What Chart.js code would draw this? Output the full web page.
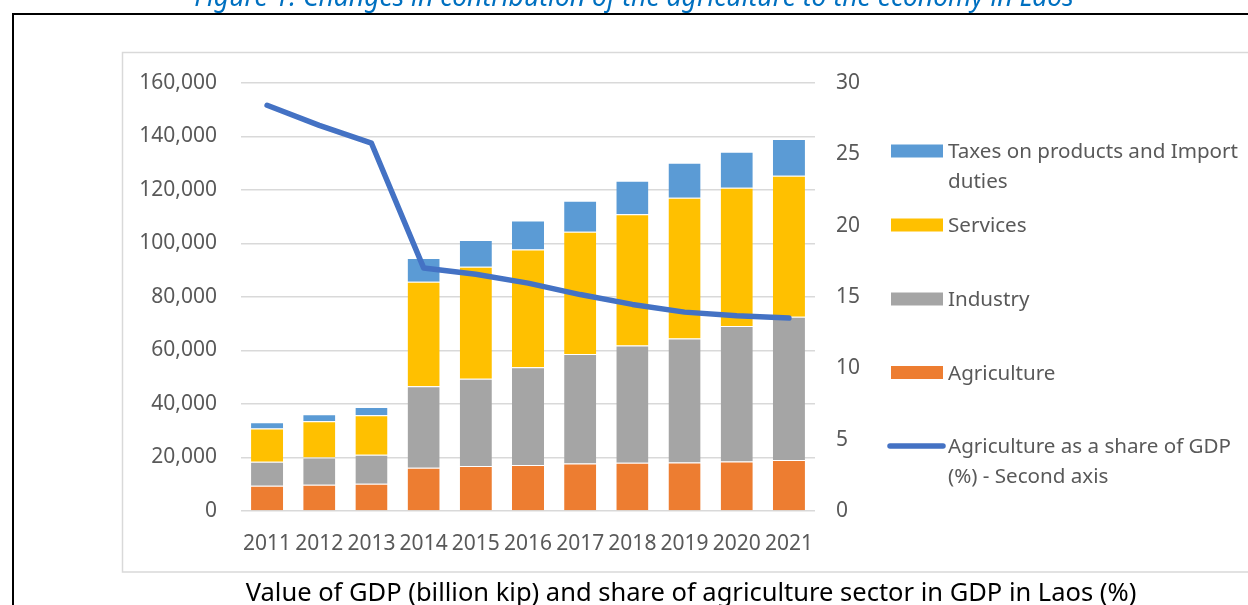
<!DOCTYPE html>
<html>
<head>
<meta charset="utf-8">
<script src="https://cdn.jsdelivr.net/npm/chart.js@4.4.1/dist/chart.umd.min.js"></script>
<style>
  html, body { margin: 0; padding: 0; background: #fff; overflow: hidden; }
  canvas { display: block; }
</style>
</head>
<body>
<canvas id="c" width="1248" height="605"></canvas>
<script>
// GDP by sector, billion kip (stacked), and agriculture share of GDP (%)
const years = ['2011', '2012', '2013', '2014', '2015', '2016', '2017', '2018', '2019', '2020', '2021'];
const agriculture = [9440, 9810, 10180, 16150, 16780, 17160, 17780, 18030, 18150, 18520, 19020];
const industry    = [8950, 10210, 10820, 30470, 32700, 36550, 40900, 43880, 46370, 50600, 53580];
const services    = [12450, 13550, 14800, 39040, 41800, 44010, 45750, 48980, 52590, 51720, 52710];
const taxes       = [2350, 2610, 3100, 8960, 10070, 10920, 11570, 12560, 13050, 13430, 13790];
const agriShare   = [28.44, 27.03, 25.78, 17.04, 16.6, 15.97, 15.17, 14.48, 13.94, 13.68, 13.52];

const leftTicks  = [0, 20000, 40000, 60000, 80000, 100000, 120000, 140000, 160000];
const rightTicks = [0, 5, 10, 15, 20, 25, 30];

const FONT = '"Noto Sans", "Open Sans", sans-serif';
const TEXT_GREY = '#595959';
Chart.defaults.font.family = FONT;

// Legend entries, top to bottom, each with its wrapped text lines
const legendItems = [
  { label: 'Taxes on products and Import duties', lines: ['Taxes on products and Import', 'duties'], color: '#5B9BD5', kind: 'box' },
  { label: 'Services', lines: ['Services'], color: '#FFC000', kind: 'box' },
  { label: 'Industry', lines: ['Industry'], color: '#A5A5A5', kind: 'box' },
  { label: 'Agriculture', lines: ['Agriculture'], color: '#ED7D31', kind: 'box' },
  { label: 'Agriculture as a share of GDP (%) - Second axis', lines: ['Agriculture as a share of GDP', '(%) - Second axis'], color: '#4472C4', kind: 'line' }
];

const framePlugin = {
  id: 'frame',
  beforeDraw(chart) {
    const ctx = chart.ctx;
    ctx.save();
    ctx.fillStyle = '#fff';
    ctx.fillRect(0, 0, chart.width, chart.height);

    // figure heading above the outer box
    ctx.font = 'italic 26.5px ' + FONT;
    ctx.fillStyle = '#0070C0';
    ctx.textAlign = 'center';
    ctx.textBaseline = 'alphabetic';
    ctx.fillText('Figure 1: Changes in contribution of the agriculture to the economy in Laos', 634, 6);

    // outer black box
    ctx.fillStyle = '#000';
    ctx.fillRect(12, 13, 1236, 2);
    ctx.fillRect(12, 13, 2, 592);

    // light chart frame
    ctx.strokeStyle = '#D9D9D9';
    ctx.lineWidth = 1.5;
    ctx.strokeRect(122.5, 52.5, 1200, 519.5);

    // caption below the chart frame
    ctx.font = '25.5px ' + FONT;
    ctx.fillStyle = '#000';
    ctx.textAlign = 'center';
    ctx.fillText('Value of GDP (billion kip) and share of agriculture sector in GDP in Laos (%)', 691, 601);
    ctx.restore();
  },
  afterDraw(chart) {
    const ctx = chart.ctx;
    ctx.save();
    const centers = [151, 225, 299, 372.5, 446];
    const textX = 948;
    ctx.font = '20.6px ' + FONT;
    ctx.textAlign = 'left';
    ctx.textBaseline = 'alphabetic';
    legendItems.forEach((item, i) => {
      const cy = centers[i];
      if (item.kind === 'box') {
        ctx.fillStyle = item.color;
        ctx.fillRect(891, cy - 6.5, 52, 13);
      } else {
        ctx.strokeStyle = item.color;
        ctx.lineWidth = 5.5;
        ctx.lineCap = 'round';
        ctx.beginPath();
        ctx.moveTo(890, cy);
        ctx.lineTo(943, cy);
        ctx.stroke();
      }
      ctx.fillStyle = TEXT_GREY;
      item.lines.forEach((ln, k) => ctx.fillText(ln, textX, cy + 7 + k * 29.5));
    });
    ctx.restore();
  }
};

const barDefaults = {
  type: 'bar',
  yAxisID: 'y',
  order: 1,
  barPercentage: 0.615,
  categoryPercentage: 1,
  borderColor: 'rgba(255,255,255,0.7)',
  borderWidth: { top: 1, right: 0, bottom: 0, left: 0 },
  borderSkipped: false
};

new Chart(document.getElementById('c'), {
  data: {
    labels: years,
    datasets: [
      { type: 'line', label: legendItems[4].label, data: agriShare, yAxisID: 'y1', order: 0,
        borderColor: '#4472C4', backgroundColor: '#4472C4', borderWidth: 5.5,
        borderCapStyle: 'round', borderJoinStyle: 'round', pointRadius: 0, tension: 0, fill: false },
      Object.assign({ label: 'Agriculture', data: agriculture, backgroundColor: '#ED7D31' }, barDefaults),
      Object.assign({ label: 'Industry', data: industry, backgroundColor: '#A5A5A5' }, barDefaults),
      Object.assign({ label: 'Services', data: services, backgroundColor: '#FFC000' }, barDefaults),
      Object.assign({ label: 'Taxes on products and Import duties', data: taxes, backgroundColor: '#5B9BD5' }, barDefaults)
    ]
  },
  options: {
    responsive: false,
    animation: false,
    layout: { padding: { top: 83, left: 0, right: 0, bottom: 0 } },
    plugins: { legend: { display: false }, tooltip: { enabled: false } },
    scales: {
      x: {
        stacked: true,
        grid: { display: false, drawTicks: false },
        border: { display: false },
        ticks: { color: TEXT_GREY, font: { size: 21 }, padding: 20, maxRotation: 0, autoSkip: false },
        afterFit(s) { s.height = 94; }
      },
      y: {
        stacked: true,
        position: 'left',
        min: leftTicks[0],
        max: leftTicks[leftTicks.length - 1],
        afterBuildTicks(s) { s.ticks = leftTicks.map(v => ({ value: v })); },
        grid: { color: '#D9D9D9', lineWidth: 1.5, drawTicks: false },
        border: { display: false },
        ticks: { color: TEXT_GREY, font: { size: 21 }, padding: 24,
          callback: v => Number(v).toLocaleString('en-US') },
        afterFit(s) { s.width = 241; }
      },
      y1: {
        position: 'right',
        min: rightTicks[0],
        max: rightTicks[rightTicks.length - 1],
        afterBuildTicks(s) { s.ticks = rightTicks.map(v => ({ value: v })); },
        grid: { display: false, drawTicks: false },
        border: { display: false },
        ticks: { color: TEXT_GREY, font: { size: 21 }, padding: 21 },
        afterFit(s) { s.width = 433; }
      }
    }
  },
  plugins: [framePlugin]
});
</script>
</body>
</html>
